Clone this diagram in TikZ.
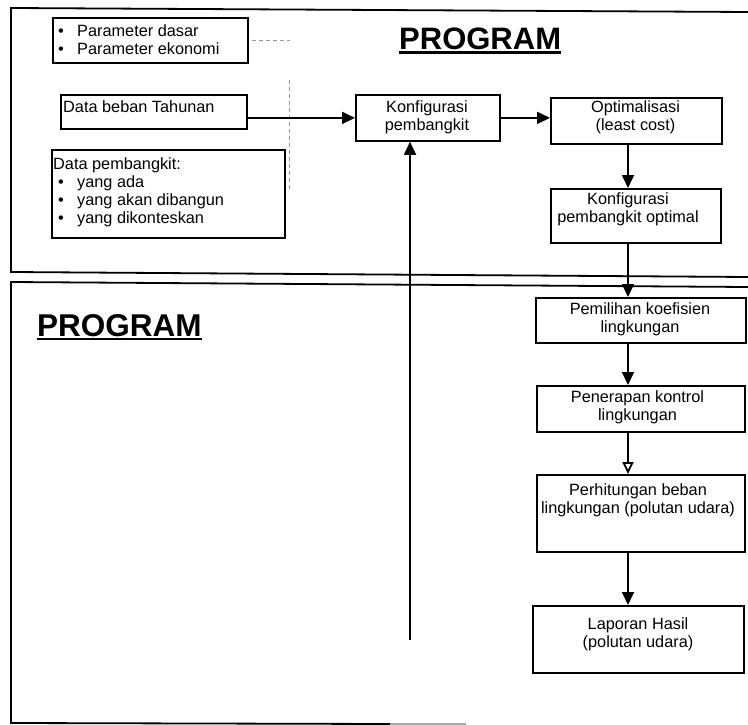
\documentclass[tikz,border=0pt]{standalone}
\usepackage{fontspec}
\setmainfont{Liberation Sans}
\usetikzlibrary{arrows.meta}
\newcommand\bl{\makebox[19pt][l]{•}}
\begin{document}
\begin{tikzpicture}[x=1pt,y=-1pt,
  box/.style={draw, line width=1.8pt, rectangle, inner sep=0pt, anchor=north west},
  txt/.style={inner sep=0pt, font=\fontsize{16.3}{18}\selectfont},
  frame/.style={line width=1.8pt},
  arr/.style={line width=1.8pt, -{Triangle[length=13pt,width=12pt]}},
  oarr/.style={line width=1.8pt, -{Triangle[open,length=12pt,width=11pt,fill=white]}},
  faint/.style={line width=0.7pt, gray!80, dash pattern=on 4pt off 3pt},
  head/.style={inner sep=0pt, anchor=north west, font=\fontsize{31}{36}\selectfont\bfseries}]
\useasboundingbox (0,0) rectangle (748,725);

% frames
\draw[frame] (748,12) -- (11,8) -- (11,272) -- (748,277);
\draw[frame] (748,287) -- (11,282) -- (11,723) -- (390,724);
\draw[frame, gray!70] (390,724) -- (466,724);

% faint dashed marks
\draw[faint] (252,40) -- (290,40);
\draw[faint] (289,80) -- (289,190);

% headings
\node[head] (prog1) at (399,27.5) {PROGRAM};
\draw[line width=2.5pt] ([yshift=-3pt]prog1.base west) -- ([yshift=-3pt]prog1.base east);
\node[head, font=\fontsize{31.5}{36}\selectfont\bfseries] (prog2) at (37,314) {PROGRAM};
\draw[line width=2.5pt] ([yshift=-3pt]prog2.base west) -- ([yshift=-3pt]prog2.base east);

% boxes
\node[box, minimum width=195pt, minimum height=45pt] (param) at (52,17) {};
\node[box, minimum width=186pt, minimum height=34pt] (beban) at (60,94) {};
\node[box, minimum width=233pt, minimum height=88pt] (pemb) at (51,149) {};
\node[box, minimum width=144pt, minimum height=46pt] (konf) at (355,94) {};
\node[box, minimum width=171pt, minimum height=46pt] (opt) at (550,97) {};
\node[box, minimum width=170pt, minimum height=54pt] (kpo) at (550,188) {};
\node[box, minimum width=210pt, minimum height=45pt] (pem) at (535,297) {};
\node[box, minimum width=208pt, minimum height=46pt] (pen) at (536,385) {};
\node[box, minimum width=208pt, minimum height=77pt] (per) at (536,474) {};
\node[box, minimum width=211pt, minimum height=67pt] (lap) at (532,605) {};

% texts
\node[txt, anchor=north west, align=left] (param-t) at (58,24.5) {\bl Parameter dasar\\\bl Parameter ekonomi};
\node[txt, anchor=north west] (beban-t) at (63,100) {Data beban Tahunan};
\node[txt, anchor=north west, align=left, font=\fontsize{16.3}{18.3}\selectfont] (pemb-t) at (53,157)
  {Data pembangkit:\\\hspace*{5pt}\bl yang ada\\\hspace*{5pt}\bl yang akan dibangun\\\hspace*{5pt}\bl yang dikonteskan};
\node[txt, anchor=north, align=center] (konf-t) at (427,100) {Konfigurasi\\pembangkit};
\node[txt, anchor=north, align=center] (opt-t) at (635.5,100) {Optimalisasi\\(least cost)};
\node[txt, anchor=north, align=center] (kpo-t) at (628,192) {Konfigurasi\\pembangkit optimal};
\node[txt, anchor=north, align=center] (pem-t) at (640,302) {Pemilihan koefisien\\lingkungan};
\node[txt, anchor=north, align=center] (pen-t) at (637.5,390) {Penerapan kontrol\\lingkungan};
\node[txt, anchor=north, align=center] (per-t) at (638,483) {Perhitungan beban\\lingkungan (polutan udara)};
\node[txt, anchor=north, align=center] (lap-t) at (638,617) {Laporan Hasil\\(polutan udara)};

% connectors
\coordinate (colx) at (628,0);
\coordinate (fb) at (410,640);
\draw[arr] (beban.east |- konf.center) -- (konf.west);
\draw[arr] (konf.east) -- (konf.east -| opt.west);
\draw[arr] (opt.south -| colx) -- (kpo.north -| colx);
\draw[arr] (kpo.south -| colx) -- (pem.north -| colx);
\draw[arr] (pem.south -| colx) -- (pen.north -| colx);
\draw[oarr] (pen.south -| colx) -- (per.north -| colx);
\draw[arr] (per.south -| colx) -- (lap.north -| colx);
\draw[arr] (fb) -- (fb |- konf.south);
\end{tikzpicture}
\end{document}
